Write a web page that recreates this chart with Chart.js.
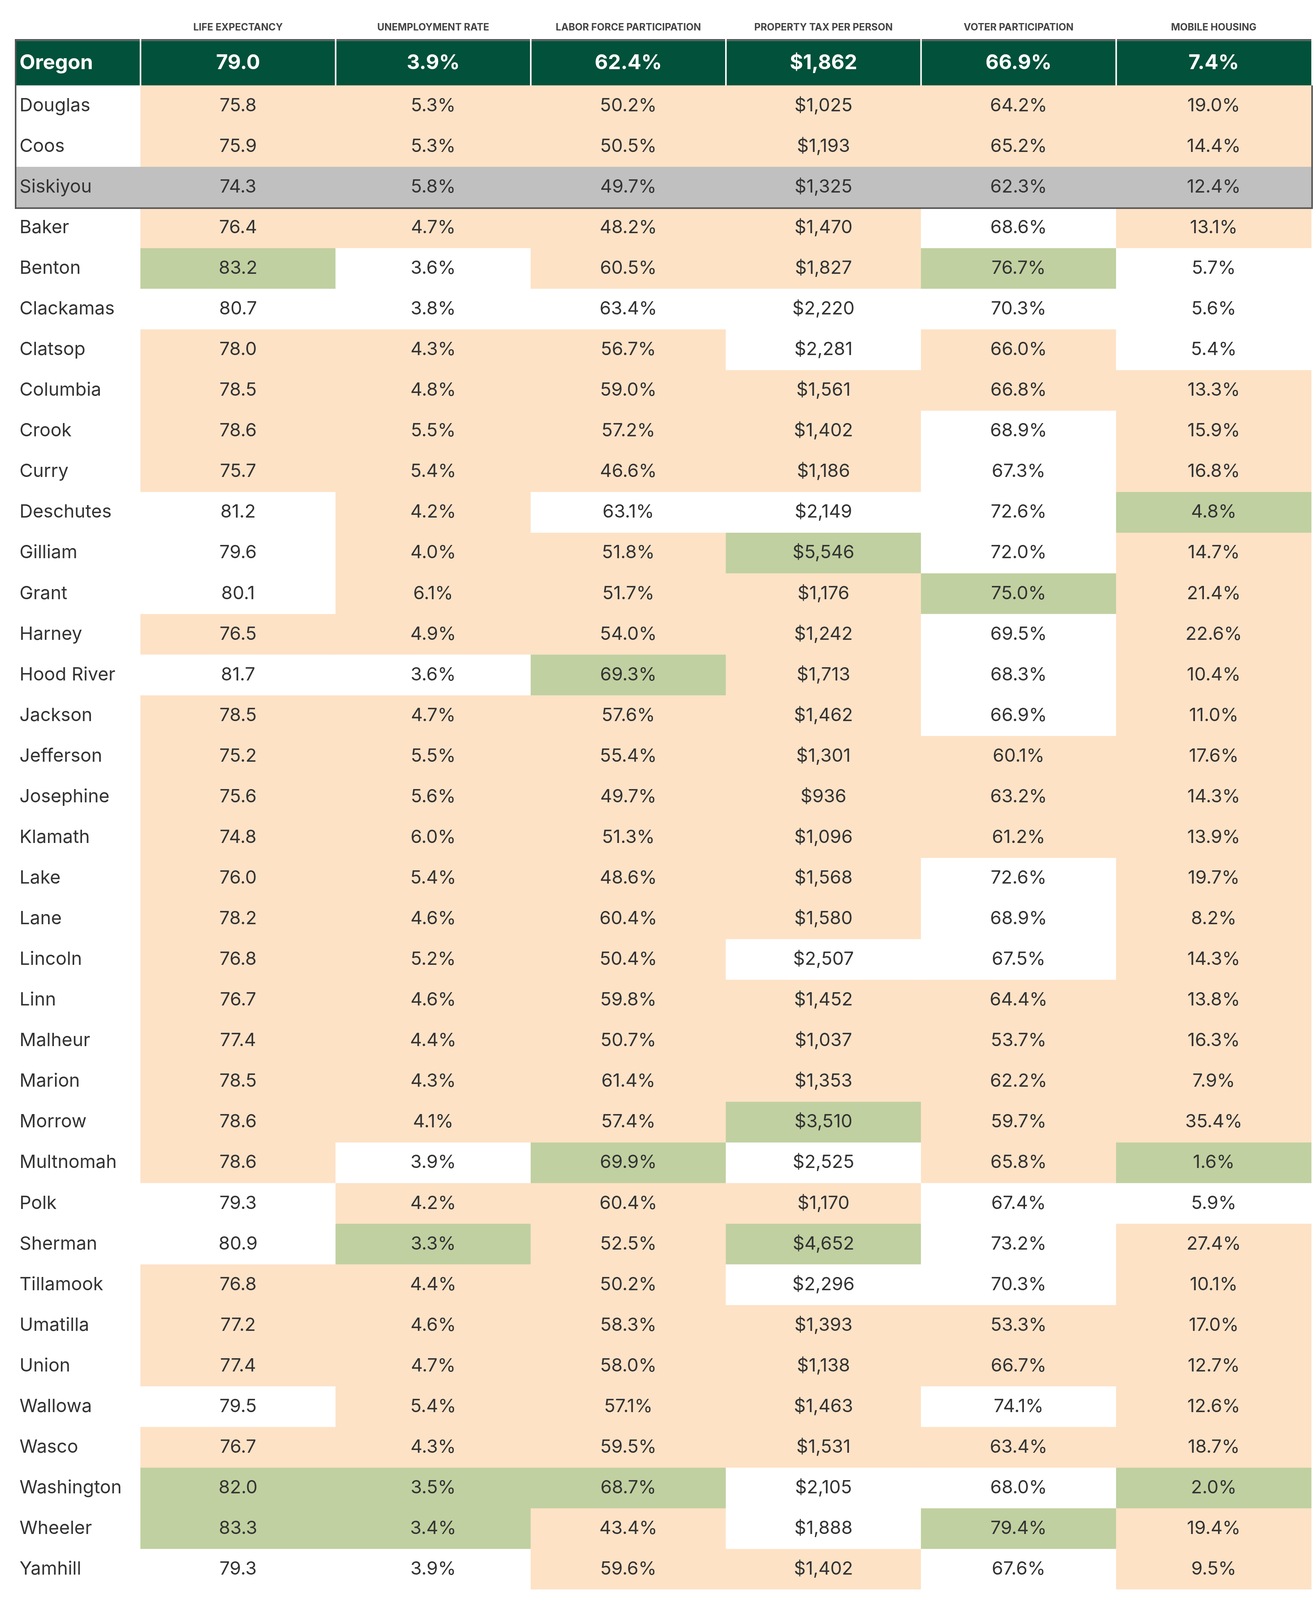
<!DOCTYPE html>
<html>
<head>
<meta charset="utf-8">
<script src="https://cdn.jsdelivr.net/npm/chart.js@4.4.0/dist/chart.umd.min.js"></script>
<style>
html,body{margin:0;padding:0;background:#ffffff;overflow:hidden}
#wrap{width:3370px;height:4110px;position:relative}
</style>
</head>
<body>
<div id="wrap"><canvas id="c"></canvas></div>
<script>
// ---------------- DATA ----------------
const headers = ['LIFE EXPECTANCY','UNEMPLOYMENT RATE','LABOR FORCE PARTICIPATION','PROPERTY TAX PER PERSON','VOTER PARTICIPATION','MOBILE HOUSING'];

const rows = ['Oregon','Douglas','Coos','Siskiyou','Baker','Benton','Clackamas','Clatsop','Columbia','Crook','Curry',
  'Deschutes','Gilliam','Grant','Harney','Hood River','Jackson','Jefferson','Josephine','Klamath','Lake',
  'Lane','Lincoln','Linn','Malheur','Marion','Morrow','Multnomah','Polk','Sherman','Tillamook',
  'Umatilla','Union','Wallowa','Wasco','Washington','Wheeler','Yamhill'];

const lifeExpectancy = [79.0, 75.8,75.9,74.3,76.4,83.2,80.7,78.0,78.5,78.6,75.7,
  81.2,79.6,80.1,76.5,81.7,78.5,75.2,75.6,74.8,76.0,
  78.2,76.8,76.7,77.4,78.5,78.6,78.6,79.3,80.9,76.8,
  77.2,77.4,79.5,76.7,82.0,83.3,79.3];
const unemployment = [3.9, 5.3,5.3,5.8,4.7,3.6,3.8,4.3,4.8,5.5,5.4,
  4.2,4.0,6.1,4.9,3.6,4.7,5.5,5.6,6.0,5.4,
  4.6,5.2,4.6,4.4,4.3,4.1,3.9,4.2,3.3,4.4,
  4.6,4.7,5.4,4.3,3.5,3.4,3.9];
const laborForce = [62.4, 50.2,50.5,49.7,48.2,60.5,63.4,56.7,59.0,57.2,46.6,
  63.1,51.8,51.7,54.0,69.3,57.6,55.4,49.7,51.3,48.6,
  60.4,50.4,59.8,50.7,61.4,57.4,69.9,60.4,52.5,50.2,
  58.3,58.0,57.1,59.5,68.7,43.4,59.6];
const propertyTax = [1862, 1025,1193,1325,1470,1827,2220,2281,1561,1402,1186,
  2149,5546,1176,1242,1713,1462,1301,936,1096,1568,
  1580,2507,1452,1037,1353,3510,2525,1170,4652,2296,
  1393,1138,1463,1531,2105,1888,1402];
const voterParticipation = [66.9, 64.2,65.2,62.3,68.6,76.7,70.3,66.0,66.8,68.9,67.3,
  72.6,72.0,75.0,69.5,68.3,66.9,60.1,63.2,61.2,72.6,
  68.9,67.5,64.4,53.7,62.2,59.7,65.8,67.4,73.2,70.3,
  53.3,66.7,74.1,63.4,68.0,79.4,67.6];
const mobileHousing = [7.4, 19.0,14.4,12.4,13.1,5.7,5.6,5.4,13.3,15.9,16.8,
  4.8,14.7,21.4,22.6,10.4,11.0,17.6,14.3,13.9,19.7,
  8.2,14.3,13.8,16.3,7.9,35.4,1.6,5.9,27.4,10.1,
  17.0,12.7,12.6,18.7,2.0,19.4,9.5];

// S = statewide, P = worse than state, W = better, G = much better
const lifeStatus   = 'S' + 'PPPPGWPPPP' + 'WWWPWPPPPP' + 'PPPPPPPWWP' + 'PPWPGGW';
const unempStatus  = 'S' + 'PPPPWWPPPP' + 'PPPPWPPPPP' + 'PPPPPPWPGP' + 'PPPPGGW';
const laborStatus  = 'S' + 'PPPPPWPPPP' + 'WPPPGPPPPP' + 'PPPPPPGPPP' + 'PPPPGPP';
const taxStatus    = 'S' + 'PPPPPWWPPP' + 'WGPPPPPPPP' + 'PWPPPGWPGW' + 'PPPPWWP';
const voterStatus  = 'S' + 'PPPWGWPPWW' + 'WWGWWWPPPW' + 'WWPPPPPWWW' + 'PPWPWGW';
const mobileStatus = 'S' + 'PPPPWWWPPP' + 'GPPPPPPPPP' + 'PPPPPPGWPP' + 'PPPPGPP';

const formats = ['num1','pct1','pct1','usd','pct1','pct1'];
const highlightRow = 'Siskiyou';
const framedRows = ['Oregon','Douglas','Coos','Siskiyou'];

// ---------------- STYLE / LAYOUT ----------------
const COLORS = { S:'#02513A', P:'#FDE2C6', W:'#FFFFFF', G:'#C0D0A0', highlight:'#C0C0C0', frame:'#555555', text:'#333333', head:'#444444' };
const FONT = 'Inter';
const X_MIN = -0.644, X_MAX = 6.008, NAME_START = -0.636;
const Y_MIN = -1.14, Y_MAX = rows.length - 1, STATE_SPAN = 1.1;

const columns = [lifeExpectancy, unemployment, laborForce, propertyTax, voterParticipation, mobileHousing];
const statuses = [lifeStatus, unempStatus, laborStatus, taxStatus, voterStatus, mobileStatus];

function rowCenter(r){ return r === 0 ? -STATE_SPAN / 2 : (r - 1) + 0.5; }
function fmt(v, f){
  if (f === 'usd') return '$' + v.toLocaleString('en-US');
  if (f === 'pct1') return v.toFixed(1) + '%';
  return v.toFixed(1);
}
function cellColor(r, j){
  if (rows[r] === highlightRow) return COLORS.highlight;
  if (r === 0) return COLORS.S;
  if (j < 0) return COLORS.W;
  return COLORS[statuses[j][r]];
}

const datasets = rows.map((name, r) => {
  const c = rowCenter(r);
  const data = [{ x:[NAME_START, 0], y:c, name }].concat(
    columns.map((col, j) => ({ x:[j, j + 1], y:c, v:col[r], f:formats[j] })));
  return {
    label: name,
    data,
    backgroundColor: data.map((d, k) => cellColor(r, k - 1)),
    borderColor: '#FFFFFF',
    borderWidth: r === 0
      ? (ctx) => ({ left: ctx.dataIndex === 0 ? 0 : 2, right: ctx.dataIndex === columns.length ? 0 : 2, top: 0, bottom: 0 })
      : 0,
    borderSkipped: false,
    grouped: false,
    categoryPercentage: 1,
    barPercentage: r === 0 ? STATE_SPAN : 1
  };
});

// frame around the state row and the three highlighted counties
const framePlugin = {
  id: 'frame',
  afterDatasetsDraw(chart) {
    const { ctx, scales: { x, y } } = chart;
    const lw = 4;
    const top = y.getPixelForValue(Y_MIN);
    const stateTop = y.getPixelForValue(-STATE_SPAN);
    const stateBottom = y.getPixelForValue(0);
    const bottom = y.getPixelForValue(framedRows.length - 1);
    const left = x.getPixelForValue(X_MIN);
    const innerRight = x.getPixelForValue(columns.length);
    ctx.save();
    ctx.fillStyle = COLORS.frame;
    const edges = [X_MIN].concat(columns.map((_, j) => j)).concat([columns.length]);
    for (let k = 0; k < edges.length - 1; k++) {
      const a = x.getPixelForValue(edges[k]) + (k === 0 ? 0 : 2);
      const b = x.getPixelForValue(edges[k + 1]) - (k === edges.length - 2 ? 0 : 2);
      ctx.fillRect(a, top, b - a, stateTop - top);
    }
    ctx.fillRect(left, top, lw, bottom + lw - top);
    ctx.fillRect(innerRight, stateBottom, lw, bottom + lw - stateBottom);
    ctx.fillRect(left, bottom, innerRight + lw - left, lw);
    ctx.restore();
  }
};

// cell texts: row names (left aligned) and values (centred)
const textPlugin = {
  id: 'cellText',
  afterDatasetsDraw(chart) {
    const ctx = chart.ctx;
    const nameX = chart.scales.x.getPixelForValue(X_MIN) + 12;
    chart.data.datasets.forEach((ds, r) => {
      const meta = chart.getDatasetMeta(r);
      meta.data.forEach((el, k) => {
        const d = ds.data[k];
        const p = el.getCenterPoint();
        ctx.save();
        ctx.font = r === 0 ? `bold 52px ${FONT}` : `47px ${FONT}`;
        ctx.fillStyle = r === 0 ? '#FFFFFF' : COLORS.text;
        ctx.textBaseline = 'middle';
        if (d.name !== undefined) {
          ctx.textAlign = 'left';
          ctx.fillText(d.name, nameX, p.y);
        } else {
          ctx.textAlign = 'center';
          ctx.fillText(fmt(d.v, d.f), p.x, p.y);
        }
        ctx.restore();
      });
    });
  }
};

function draw(){
  new Chart(document.getElementById('c'), {
    type: 'bar',
    data: { datasets },
    plugins: [framePlugin, textPlugin],
    options: {
      indexAxis: 'y',
      responsive: true,
      maintainAspectRatio: false,
      devicePixelRatio: 1,
      animation: false,
      events: [],
      layout: { padding: { left: 38, right: 8, top: 0, bottom: 41 } },
      plugins: { legend: { display: false }, tooltip: { enabled: false } },
      scales: {
        x: {
          type: 'linear', position: 'top', min: X_MIN, max: X_MAX, offset: false,
          grid: { display: false, drawTicks: false }, border: { display: false },
          afterBuildTicks: (s) => { s.ticks = headers.map((h, i) => ({ value: i + 0.5 })); },
          afterFit: (s) => { s.height = 100; s.paddingLeft = 0; s.paddingRight = 0; },
          ticks: {
            autoSkip: false, maxRotation: 0, minRotation: 0, padding: 15,
            color: COLORS.head,
            font: { family: FONT, size: 25, weight: 'bold' },
            callback: (v, i) => headers[i]
          }
        },
        y: {
          type: 'linear', position: 'left', reverse: true, min: Y_MIN, max: Y_MAX, offset: false,
          grid: { display: false, drawTicks: false, offset: false }, border: { display: false },
          afterBuildTicks: (s) => { s.ticks = rows.map((_, r) => ({ value: rowCenter(r) })); },
          afterFit: (s) => { s.width = 0; s.paddingTop = 0; s.paddingBottom = 0; },
          ticks: { display: false }
        }
      }
    }
  });
}

const fontLoads = [`47px ${FONT}`, `bold 52px ${FONT}`, `bold 25px ${FONT}`].map(f => document.fonts.load(f));
Promise.race([Promise.all(fontLoads), new Promise(res => setTimeout(res, 1500))]).then(draw, draw);
</script>
</body>
</html>
